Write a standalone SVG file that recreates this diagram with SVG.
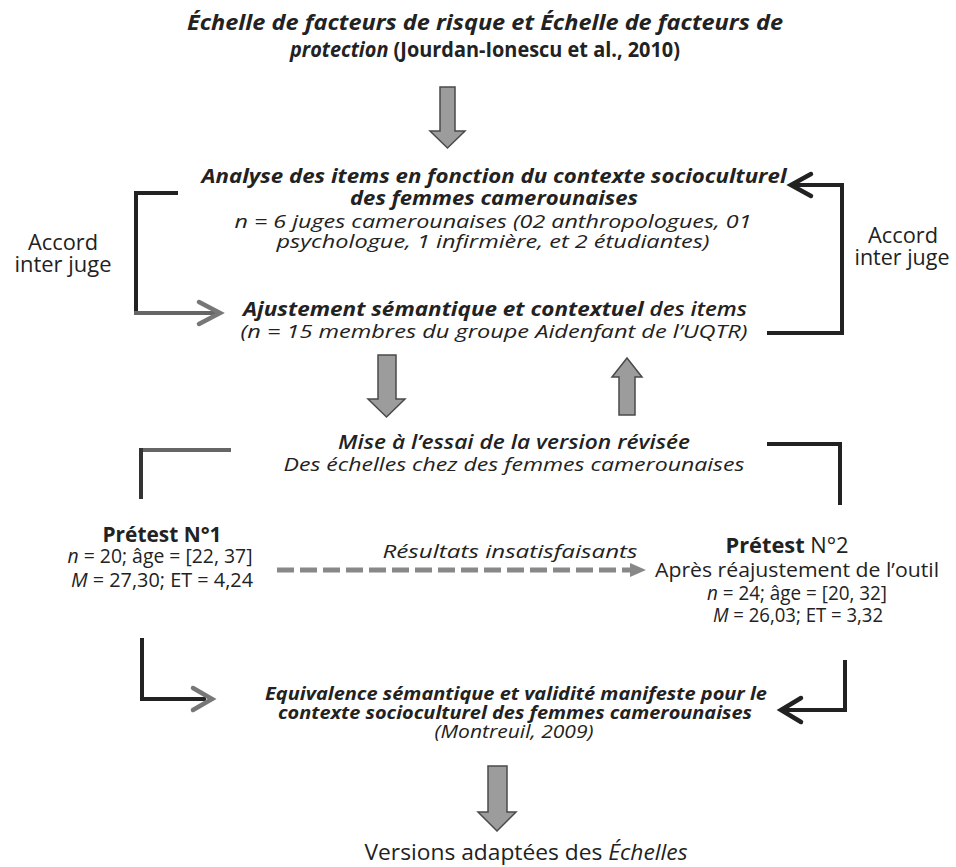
<svg xmlns="http://www.w3.org/2000/svg" width="956" height="867" viewBox="0 0 956 867">
<style>
text{font-family:"Open Sans",Lato,"Liberation Sans",sans-serif;fill:#222;}
.c{text-anchor:middle;}
.bi{font-weight:bold;font-style:italic;}
.si{font-weight:600;font-style:italic;}
.i{font-style:italic;}
.b{font-weight:bold;}
.n{font-weight:normal;font-style:normal;}
.s22{font-size:22px;}
.s21{font-size:21px;}
.s20{font-size:20px;}
.s19{font-size:19px;}
.s18{font-size:18.5px;}
.blk{fill:#9c9c9c;stroke:#4a4a4a;stroke-width:1.5;stroke-linejoin:miter;}
.ln{fill:none;stroke:#222;stroke-width:4;}
.lng{fill:none;stroke:#666;stroke-width:4;}
.hd{fill:none;stroke:#222;stroke-width:4.5;stroke-linecap:round;stroke-linejoin:miter;}
.hdg{fill:none;stroke:#777;stroke-width:4.5;stroke-linecap:round;stroke-linejoin:miter;}
</style>
<rect width="956" height="867" fill="#fff"/>

<g id="title">
<text class="c bi s21" x="485" y="30" textLength="596" lengthAdjust="spacingAndGlyphs">Échelle de facteurs de risque et Échelle de facteurs de</text>
<text class="c s21" x="485" y="57" textLength="390" lengthAdjust="spacingAndGlyphs"><tspan class="bi">protection</tspan><tspan class="b"> (Jourdan-Ionescu et al., 2010)</tspan></text>
</g>

<g id="analyse">
<text class="c bi s19" x="494" y="183" textLength="585" lengthAdjust="spacingAndGlyphs">Analyse des items en fonction du contexte socioculturel</text>
<text class="c bi s19" x="494" y="205" textLength="288" lengthAdjust="spacingAndGlyphs">des femmes camerounaises</text>
<text class="c i s19" x="493" y="228" textLength="517" lengthAdjust="spacingAndGlyphs">n = 6 juges camerounaises (02 anthropologues, 01</text>
<text class="c i s19" x="493" y="248" textLength="433" lengthAdjust="spacingAndGlyphs">psychologue, 1 infirmière, et 2 étudiantes)</text>
</g>

<g id="accord-left">
<text class="c s21" x="63" y="250" textLength="70" lengthAdjust="spacingAndGlyphs">Accord</text>
<text class="c s21" x="63" y="272" textLength="97" lengthAdjust="spacingAndGlyphs">inter juge</text>
</g>

<g id="ajustement">
<text class="c s19" x="495" y="316" textLength="504" lengthAdjust="spacingAndGlyphs"><tspan class="bi">Ajustement sémantique et contextuel</tspan><tspan class="si"> des items</tspan></text>
<text class="c i s19" x="494" y="338" textLength="507" lengthAdjust="spacingAndGlyphs">(n = 15 membres du groupe Aidenfant de l’UQTR)</text>
</g>

<g id="accord-right">
<text class="c s21" x="903" y="243" textLength="70" lengthAdjust="spacingAndGlyphs">Accord</text>
<text class="c s21" x="902" y="265" textLength="95" lengthAdjust="spacingAndGlyphs">inter juge</text>
</g>

<g id="mise">
<text class="c si s19" x="514" y="449" textLength="352" lengthAdjust="spacingAndGlyphs">Mise à l’essai de la version révisée</text>
<text class="c i s19" x="514" y="471" textLength="461" lengthAdjust="spacingAndGlyphs">Des échelles chez des femmes camerounaises</text>
</g>

<g id="pretest1">
<text class="c b s22" x="162" y="542" textLength="119" lengthAdjust="spacingAndGlyphs">Prétest N°1</text>
<text class="c s20" x="160" y="563" textLength="185" lengthAdjust="spacingAndGlyphs"><tspan class="i">n</tspan> = 20; âge = [22, 37]</text>
<text class="c s20" x="162" y="587" textLength="182" lengthAdjust="spacingAndGlyphs"><tspan class="i">M</tspan> = 27,30; ET = 4,24</text>
</g>

<g id="resultats">
<text class="c i s19" x="510" y="558" textLength="255" lengthAdjust="spacingAndGlyphs">Résultats insatisfaisants</text>
</g>

<g id="pretest2">
<text class="c s22" x="787" y="553" textLength="123" lengthAdjust="spacingAndGlyphs"><tspan class="b">Prétest</tspan> N°2</text>
<text class="c s20" x="797" y="577" textLength="284" lengthAdjust="spacingAndGlyphs">Après réajustement de l’outil</text>
<text class="c s20" x="797" y="600" textLength="180" lengthAdjust="spacingAndGlyphs"><tspan class="i">n</tspan> = 24; âge = [20, 32]</text>
<text class="c s20" x="798" y="622" textLength="170" lengthAdjust="spacingAndGlyphs"><tspan class="i">M</tspan> = 26,03; ET = 3,32</text>
</g>

<g id="equivalence">
<text class="c bi s18" x="516" y="700" textLength="502" lengthAdjust="spacingAndGlyphs">Equivalence sémantique et validité manifeste pour le</text>
<text class="c bi s18" x="515" y="719" textLength="474" lengthAdjust="spacingAndGlyphs">contexte socioculturel des femmes camerounaises</text>
<text class="c i s18" x="514" y="738" textLength="159" lengthAdjust="spacingAndGlyphs">(Montreuil, 2009)</text>
</g>

<g id="versions">
<text class="c s22" x="526" y="860" textLength="323" lengthAdjust="spacingAndGlyphs">Versions adaptées des <tspan class="i">Échelles</tspan></text>
</g>

<g id="connectors">
<path class="blk" d="M440,87 H455 V131 H465 L447.5,148 L430,131 H440 Z"/>
<path class="blk" d="M378,355 H396 V399 H405 L386.5,417 L368,399 H378 Z"/>
<path class="blk" d="M619,415 V377 H612 L627,358 L642,377 H635 V415 Z"/>
<path class="blk" d="M488,766 H507 V812 H516 L497,831 L478,812 H488 Z"/>

<path class="ln" d="M178,193 H136 V313"/>
<path class="lng" d="M134,313 H217"/>
<path class="hdg" d="M199,302 L220,313 L199,324"/>

<path class="ln" d="M767,333 H842 V185 H793"/>
<path class="hd" d="M811,174 L791,185 L811,196"/>

<path class="lng" d="M231,450 H139"/>
<path class="ln" d="M141,448 V499" style="stroke:#333"/>

<path class="ln" d="M767,444 H840 V505"/>

<path d="M277,570 H632" fill="none" stroke="#888" stroke-width="5" stroke-dasharray="17 6"/>
<path d="M630,563 L646,570 L630,577 Z" fill="#888"/>

<path class="ln" d="M142,638 V699 H206"/>
<path class="hdg" d="M193,688 L212,699 L193,710"/>

<path class="ln" d="M845,660 V710 H784"/>
<path class="hd" d="M801,698 L781,710 L801,722"/>
</g>
</svg>
